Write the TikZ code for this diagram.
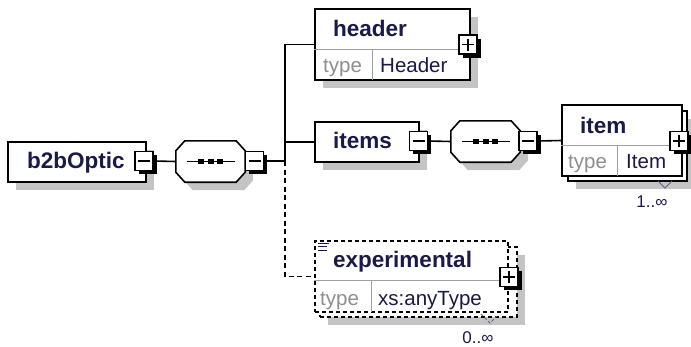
\documentclass[tikz,border=0pt]{standalone}
\usepackage{fontspec}
\setmainfont{Liberation Sans}
\usetikzlibrary{shadows}

\definecolor{xsdtext}{HTML}{1A1A48}
\definecolor{xsdgray}{HTML}{8E8E8E}
\definecolor{xsdshadow}{HTML}{C4C4C4}
\definecolor{xsdline}{HTML}{A0A0A0}

\tikzset{
    boxshadow/.style={drop shadow={shadow xshift=8pt, shadow yshift=-8pt, fill=xsdshadow, opacity=1}},
    elembox/.style={draw, line width=1.6pt, fill=white, inner sep=0pt, boxshadow},
    optbox/.style={elembox, dash pattern=on 4pt off 3pt},
    seqframe/.style={inner sep=0pt, minimum width=69pt, minimum height=41pt},
    seqline/.style={draw, line width=1.6pt, fill=white, boxshadow},
    btn/.style={draw, line width=1.2pt, fill=white, minimum width=18pt, minimum height=19pt, inner sep=0pt,
        drop shadow={shadow xshift=3.5pt, shadow yshift=-3.5pt, fill=black, opacity=1}},
    minusbtn/.style={btn, path picture={
        \draw[line width=1.3pt] (path picture bounding box.center) ++(-6,0) -- ++(12,0);}},
    plusbtn/.style={btn, path picture={
        \draw[line width=1.3pt] (path picture bounding box.center) ++(-6,0) -- ++(12,0)
            (path picture bounding box.center) ++(0,-6) -- ++(0,12);}},
    title/.style={anchor=base west, inner sep=0pt, text=xsdtext, font=\fontsize{22.5}{27}\selectfont\bfseries},
    typelbl/.style={anchor=base west, inner sep=0pt, text=xsdgray, font=\fontsize{20.5}{24}\selectfont},
    typeval/.style={anchor=base west, inner sep=0pt, text=xsdtext, font=\fontsize{20.5}{24}\selectfont},
    mult/.style={inner sep=0pt, text=xsdtext, font=\fontsize{17}{20}\selectfont},
    divider/.style={draw=xsdline, line width=1pt},
    conn/.style={line width=1.6pt},
    optconn/.style={conn, dash pattern=on 5pt off 3.5pt}
}

% octagon of a sequence compositor, drawn round the named node
\newcommand{\seqshape}[1]{%
    \filldraw[seqline] ([xshift=9pt]#1.north west) -- ([xshift=-9pt]#1.north east)
        -- ([yshift=-10pt]#1.north east) -- ([yshift=10pt]#1.south east)
        -- ([xshift=-9pt]#1.south east) -- ([xshift=9pt]#1.south west)
        -- ([yshift=10pt]#1.south west) -- ([yshift=-10pt]#1.north west) -- cycle;
    \draw[line width=1.6pt] ([xshift=-24pt]#1.center) -- ([xshift=24pt]#1.center);
    \foreach \dx in {-9.5,0,9.5}
        \fill ([xshift=\dx pt-3pt, yshift=2.5pt]#1.center) rectangle ++(6,5);
}

\begin{document}
\begin{tikzpicture}[x=1pt, y=-1pt]
    \useasboundingbox (0,0) rectangle (691,346);

    %% Root element and its sequence
    \node[elembox, minimum width=138, minimum height=40] (b2bOptic) at (77,162) {};
    \node[title] (b2bOptic-name) at (27,168) {b2bOptic};
    \node[minusbtn] (b2bOptic-btn) at (144,161) {};

    \node[seqframe] (seq1) at (210.5,161.5) {};
    \seqshape{seq1}
    \node[minusbtn] (seq1-btn) at (254.5,161) {};

    %% Children of the sequence

    % header
    \node[elembox, minimum width=155, minimum height=71] (header) at (392.5,44.5) {};
    \draw[divider] (header.west |- 0,49) -- (header.east |- 0,49);
    \draw[divider] (372,49) -- (372,80);
    \node[title] (header-name) at (333,36) {header};
    \node[typelbl] (header-type) at (323,72) {type};
    \node[typeval] (header-val) at (380,72) {Header};
    \node[plusbtn] (header-btn) at (468,44.5) {};

    % items
    \node[elembox, minimum width=104, minimum height=40] (items) at (367,142) {};
    \node[title] (items-name) at (333,148) {items};
    \node[minusbtn] (items-btn) at (418.5,141) {};

    \node[seqframe] (seq2) at (485.5,141.5) {};
    \seqshape{seq2}
    \node[minusbtn] (seq2-btn) at (528,141) {};

    % item (repeated)
    \node[elembox, minimum width=119, minimum height=70] (item-back) at (627.5,146) {};
    \node[draw, line width=1.6pt, fill=white, inner sep=0pt, minimum width=120, minimum height=71] (item) at (622,140.5) {};
    \draw[divider] (item.west |- 0,145) -- (item.east |- 0,145);
    \draw[divider] (617,145) -- (617,176);
    \node[title] (item-name) at (580,133) {item};
    \node[typelbl] (item-type) at (568,168) {type};
    \node[typeval] (item-val) at (626,168) {Item};
    \node[plusbtn] (item-btn) at (679,141) {};
    \draw[line width=1pt, xsdtext!70] (658,181) -- (665,188) -- (672,181);
    \node[mult] (item-mult) at (652,202) {1..∞};

    % experimental (optional, any type)
    \node[optbox, minimum width=197, minimum height=70] (experimental-back) at (418.5,282) {};
    \node[draw, line width=1.6pt, dash pattern=on 4pt off 3pt, fill=white, inner sep=0pt,
        minimum width=193, minimum height=71] (experimental) at (411.5,276.5) {};
    \draw[divider] (experimental.west |- 0,280) -- (experimental.east |- 0,280);
    \draw[divider] (371,280) -- (371,312);
    \draw[line width=0.8pt, xsdtext] (318,243) -- (329,243) (318,246.5) -- (327,246.5) (318,250) -- (327,250);
    \node[title] (experimental-name) at (333,267) {experimental};
    \node[typelbl] (experimental-type) at (320,305) {type};
    \node[typeval] (experimental-val) at (378,305) {xs:anyType};
    \node[plusbtn] (experimental-btn) at (509,277) {};
    \draw[line width=1pt, dash pattern=on 3pt off 2pt, xsdtext!70] (481,314) -- (490,323) -- (497,316);
    \node[mult] (experimental-mult) at (478,338) {0..∞};

    %% Connectors
    \coordinate (fork) at (285,161);
    \draw[conn] (b2bOptic-btn.east) -- (seq1.west);
    \draw[conn] (seq1-btn.east) -- (fork);
    \draw[conn] (fork) |- (header.west);
    \draw[conn] (fork |- items.west) -- (items.west);
    \draw[optconn] (fork) |- (experimental.west);
    \draw[conn] (items-btn.east) -- (seq2.west);
    \draw[conn] (seq2-btn.east) -- (item.west);

\end{tikzpicture}
\end{document}
